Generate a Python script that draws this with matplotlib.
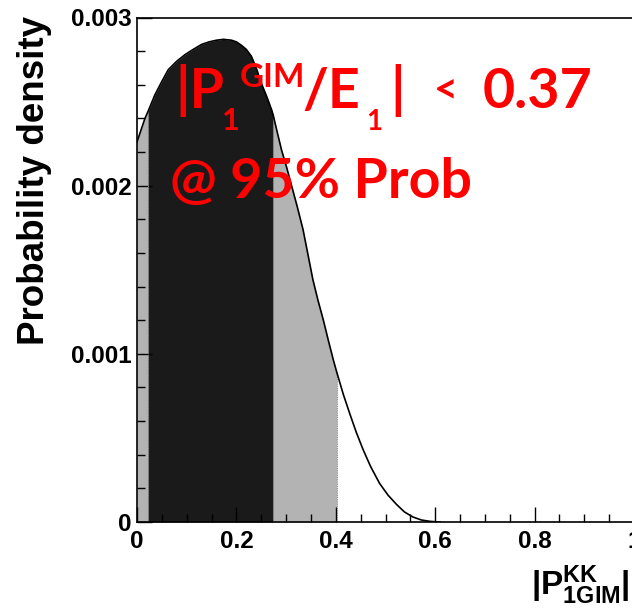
import matplotlib
matplotlib.use("Agg")
import matplotlib.pyplot as plt
from matplotlib.ticker import MultipleLocator, FixedLocator, FixedFormatter
import numpy as np

# ---- data ----
x_vals = [0.0, 0.008, 0.016, 0.022, 0.036, 0.05, 0.063, 0.08, 0.097, 0.113, 0.13,
          0.145, 0.16, 0.174, 0.19, 0.2, 0.21, 0.22, 0.23, 0.24, 0.25, 0.261,
          0.271, 0.274, 0.282, 0.291, 0.301, 0.311, 0.322, 0.334, 0.344, 0.354,
          0.364, 0.375, 0.385, 0.395, 0.402, 0.415, 0.428, 0.441, 0.455, 0.47,
          0.488, 0.505, 0.522, 0.538, 0.555, 0.572, 0.589, 0.61]
density_e3 = [2.26, 2.33, 2.40, 2.44, 2.54, 2.62, 2.69, 2.74, 2.78, 2.81, 2.84,
              2.855, 2.865, 2.87, 2.865, 2.855, 2.835, 2.81, 2.77, 2.70, 2.61, 2.53,
              2.45, 2.42, 2.32, 2.21, 2.11, 2.00, 1.88, 1.74, 1.59, 1.44,
              1.32, 1.20, 1.08, 0.964, 0.89, 0.76, 0.645, 0.535, 0.43, 0.33,
              0.23, 0.16, 0.105, 0.06, 0.03, 0.012, 0.004, 0.0]
lo68, hi68, hi95 = 0.022, 0.274, 0.402

x_ticks = [0, 0.2, 0.4, 0.6, 0.8, 1.0]
x_tick_labels = ["0", "0.2", "0.4", "0.6", "0.8", "1"]
y_ticks = [0, 0.001, 0.002, 0.003]
y_tick_labels = ["0", "0.001", "0.002", "0.003"]

W, H = 632, 613
plt.rcParams['mathtext.fontset'] = 'custom'
plt.rcParams['mathtext.rm'] = 'Liberation Sans:bold'
plt.rcParams['mathtext.bf'] = 'Liberation Sans:bold'
plt.rcParams['mathtext.it'] = 'Liberation Sans:bold'

fig = plt.figure(figsize=(W / 100, H / 100), dpi=100)
ax_left, ax_right = 137 / W, 634 / W
ax_bottom, ax_top = 1 - 522 / H, 1 - 17.5 / H
ax = fig.add_axes([ax_left, ax_bottom, ax_right - ax_left, ax_top - ax_bottom])

x = np.array(x_vals)
y = np.array(density_e3) * 1e-3

light = "#b3b3b3"
dark = "#1a1a1a"
ax.fill_between(x, 0, y, where=(x <= lo68), color=light, lw=0)
ax.fill_between(x, 0, y, where=(x >= lo68) & (x <= hi68), color=dark, lw=0)
ax.fill_between(x, 0, y, where=(x >= hi68) & (x <= hi95), color=light, lw=0)
for b in (lo68, hi68, hi95):
    yb = np.interp(b, x, y)
    ax.plot([b, b], [0, yb], ls=(0, (1, 1)), color="#888888", lw=0.8)
ax.plot(x, y, color="black", lw=1.2)

ax.set_xlim(0, 1.0)
ax.set_ylim(0, 0.003)

ax.xaxis.set_major_locator(FixedLocator(x_ticks))
ax.xaxis.set_major_formatter(FixedFormatter(x_tick_labels))
ax.xaxis.set_minor_locator(MultipleLocator(0.05))
ax.yaxis.set_major_locator(FixedLocator(y_ticks))
ax.yaxis.set_major_formatter(FixedFormatter(y_tick_labels))
ax.yaxis.set_minor_locator(MultipleLocator(0.0002))

ax.tick_params(which='both', direction='in', top=False, right=False, width=1.0)
ax.tick_params(which='major', length=11)
ax.tick_params(which='minor', length=5.5)
ax.tick_params(axis='y', which='major', pad=4)
ax.tick_params(axis='x', which='major', pad=6)
for lab in ax.get_xticklabels() + ax.get_yticklabels():
    lab.set_fontfamily('Liberation Sans')
    lab.set_fontweight('bold')
    lab.set_fontsize(17.5)
for sp in ax.spines.values():
    sp.set_linewidth(1.2)

# y label
fig.text(35 / W, 1 - 180 / H, "Probability density", rotation=90,
         ha='center', va='center', family='Liberation Sans', weight='bold', fontsize=26.5)
# x label
fig.text(531 / W, 1 - 595 / H, r'$|\mathbf{P}^{\mathbf{KK}}_{\mathbf{1GIM}}|$',
         ha='left', va='baseline', fontsize=24)

# red annotation
def rtext(px, py, s, size):
    fig.text(px / W, 1 - py / H, s, ha='left', va='baseline', color='#ff0000',
             family='Lato', weight='bold', fontsize=size)

rtext(175, 108, "|P", 40)
rtext(222, 130, "1", 22)
rtext(240, 87, "GIM", 24)
rtext(302, 108, "/E", 40)
rtext(366, 130, "1", 20)
rtext(390, 108, "|", 40)
rtext(434, 102, "<", 30)
rtext(483, 108, "0.37", 40)
rtext(170, 198, "@ 95% Prob", 40)

fig.savefig("out.png", dpi=100)
